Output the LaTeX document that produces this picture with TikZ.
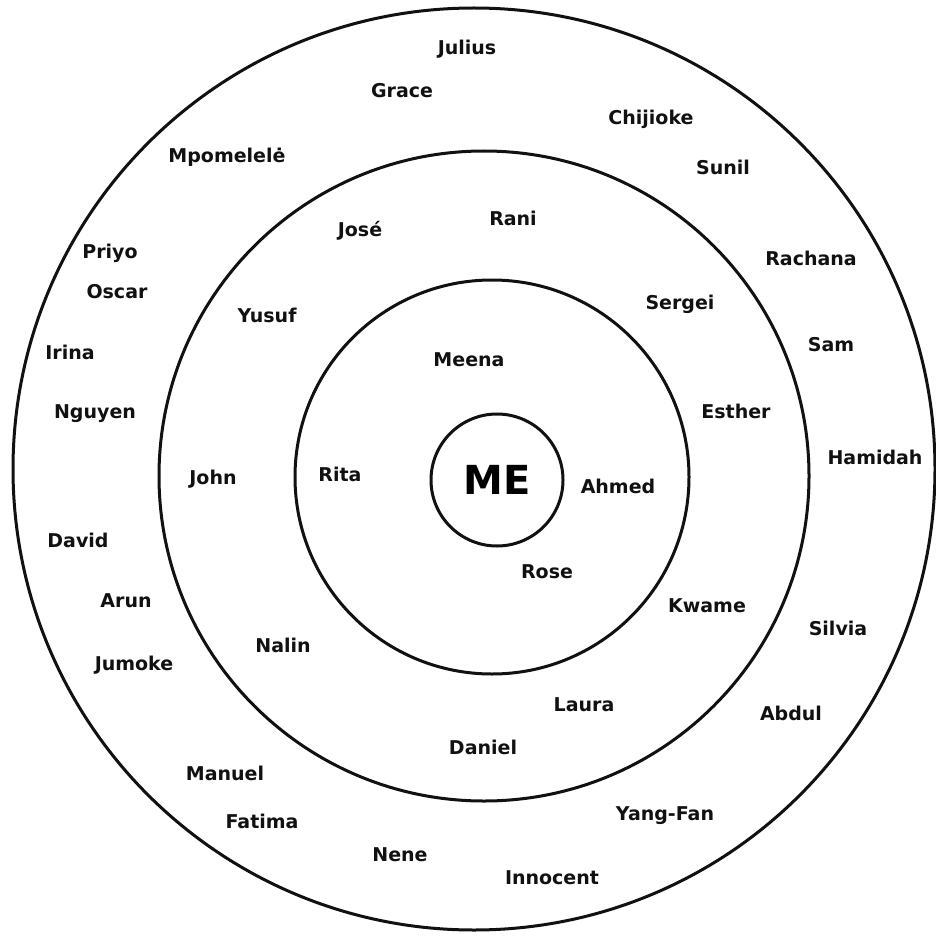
\documentclass[tikz,border=0pt]{standalone}
\usepackage{fontspec}
\setmainfont{DejaVu Sans}
\usepackage{tikz}
\usetikzlibrary{positioning}
\definecolor{inkline}{HTML}{111111}

\tikzset{
  ring/.style={draw=inkline, line width=3pt},
  person/.style={text=inkline, font=\bfseries\fontsize{19}{22}\selectfont, inner sep=0pt},
}

\begin{document}
\begin{tikzpicture}[x=1pt, y=-1pt]
  \useasboundingbox[fill=white] (0,0) rectangle (935,941);

  % rings
  \draw[ring] (474,469) circle[radius=461pt];
  \draw[ring] (484,476) circle[radius=325pt];
  \draw[ring] (492,477) circle[radius=197pt];
  \node[ring, circle, minimum size=132pt, inner sep=0pt,
        font=\bfseries\fontsize{40}{44}\selectfont] (me) at (497,480) {ME};

  % inner ring
  \node[person] (meena) at (469,360) {Meena};
  \node[person] (rita) at (340,474) {Rita};
  \node[person] (ahmed) at (618,486) {Ahmed};
  \node[person] (rose) at (547,572) {Rose};

  % middle ring
  \node[person] (rani) at (513,218) {Rani};
  \node[person] (jose) at (360,231) {José};
  \node[person] (sergei) at (680,304) {Sergei};
  \node[person] (yusuf) at (267,315) {Yusuf};
  \node[person] (esther) at (736,411) {Esther};
  \node[person] (john) at (213,479) {John};
  \node[person] (kwame) at (707,606) {Kwame};
  \node[person] (nalin) at (283,645) {Nalin};
  \node[person] (laura) at (584,705) {Laura};
  \node[person] (daniel) at (483,747) {Daniel};

  % outer ring
  \node[person] (julius) at (467,49) {Julius};
  \node[person] (grace) at (402,91) {Grace};
  \node[person] (chijioke) at (651,119) {Chijioke};
  \node[person] (mpomelele) at (227,157) {Mpomelelė};
  \node[person] (sunil) at (723,167) {Sunil};
  \node[person] (priyo) at (110,253) {Priyo};
  \node[person] (rachana) at (811,258) {Rachana};
  \node[person] (oscar) at (117,292) {Oscar};
  \node[person] (irina) at (70,352) {Irina};
  \node[person] (sam) at (831,345) {Sam};
  \node[person] (nguyen) at (95,414) {Nguyen};
  \node[person] (hamidah) at (875,457) {Hamidah};
  \node[person] (david) at (78,540) {David};
  \node[person] (arun) at (126,601) {Arun};
  \node[person] (silvia) at (838,628) {Silvia};
  \node[person] (jumoke) at (134,665) {Jumoke};
  \node[person] (abdul) at (791,713) {Abdul};
  \node[person] (manuel) at (225,773) {Manuel};
  \node[person] (yangfan) at (665,816) {Yang-Fan};
  \node[person] (fatima) at (262,821) {Fatima};
  \node[person] (nene) at (400,855) {Nene};
  \node[person] (innocent) at (552,878) {Innocent};
\end{tikzpicture}
\end{document}
